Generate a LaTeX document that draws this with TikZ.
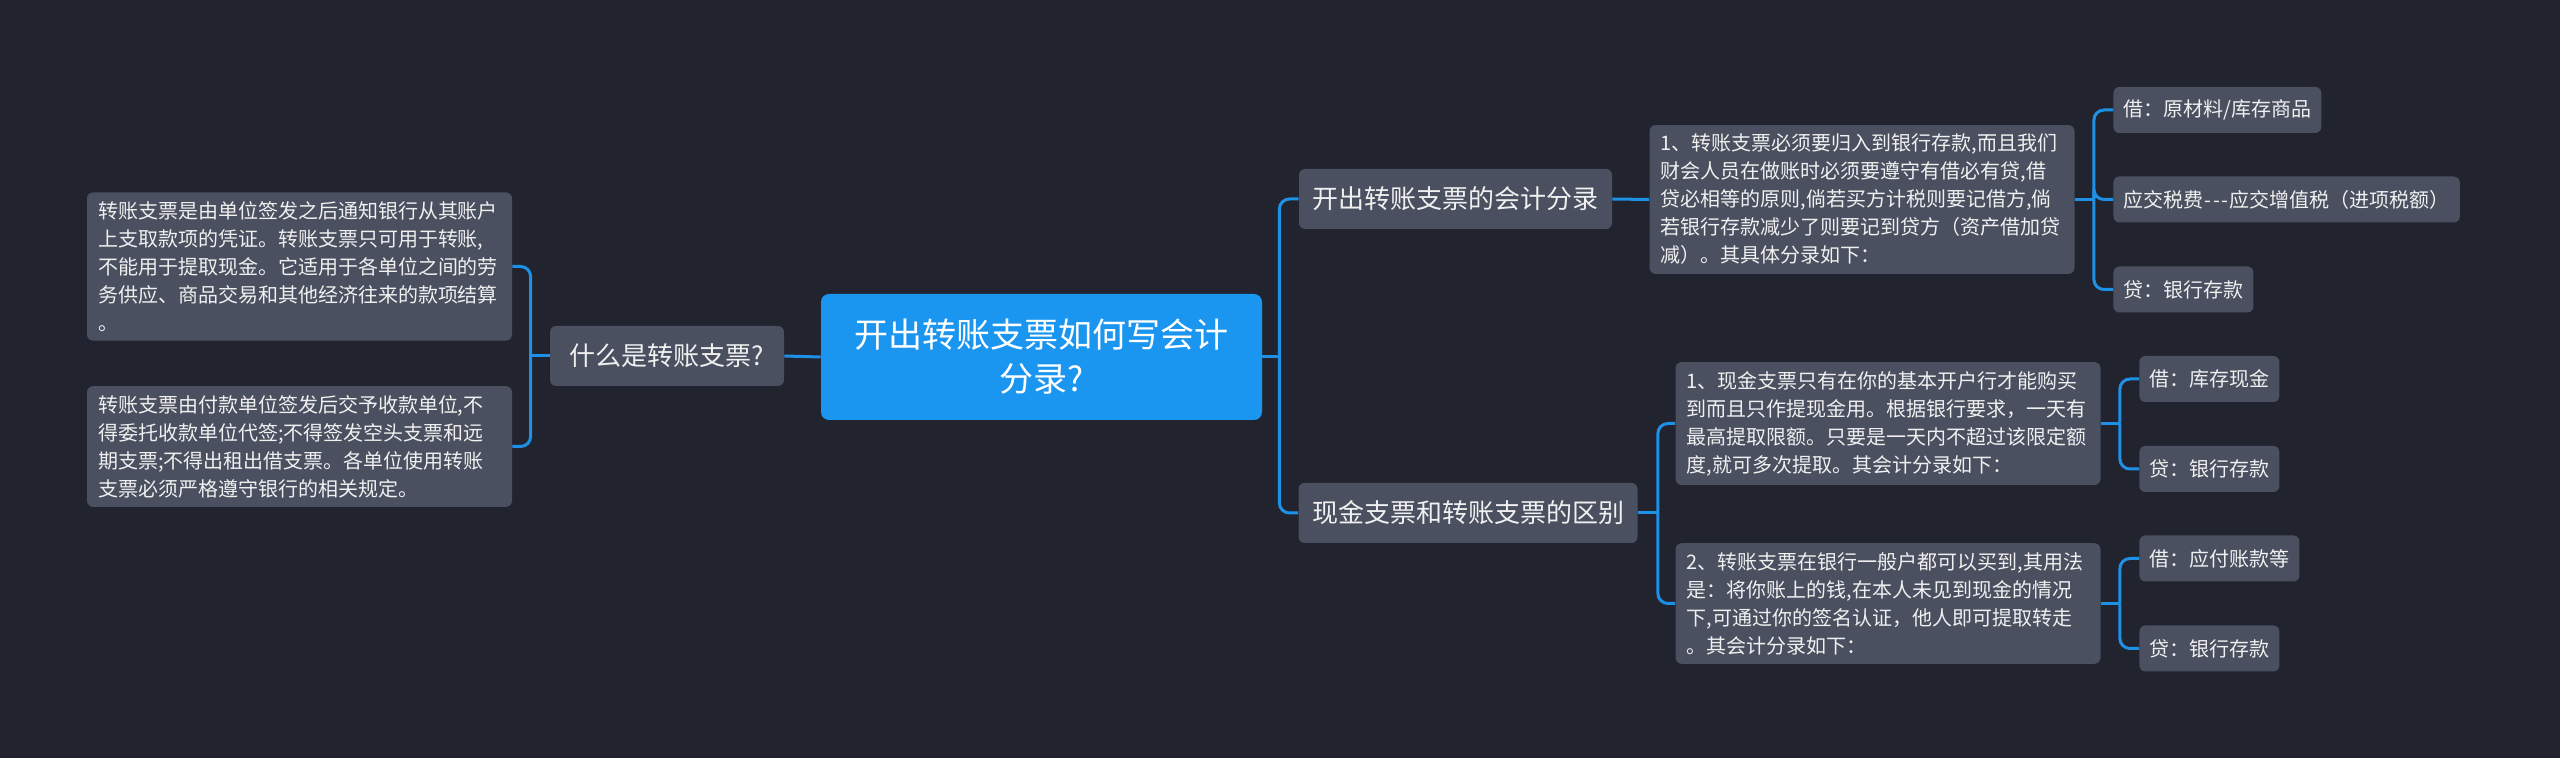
\documentclass[tikz,border=0pt]{standalone}
\usepackage{fontspec}
\setmainfont{Noto Sans CJK SC}
\usetikzlibrary{positioning}
\definecolor{bgcol}{RGB}{33,36,47}
\definecolor{boxgray}{RGB}{74,80,96}
\definecolor{rootblue}{RGB}{26,150,240}
\definecolor{linkblue}{RGB}{30,144,230}
\definecolor{txt}{RGB}{240,240,240}

\begin{document}
\begin{tikzpicture}[x=0.5pt, y=-0.5pt,
    box/.style={fill=boxgray, text=txt, rounded corners=3pt},
    note/.style={box, font=\fontsize{10pt}{14pt}\selectfont, align=left, text width=201.5pt, inner xsep=5.5pt, inner ysep=4.5pt},
    leaf/.style={box, font=\fontsize{10pt}{14pt}\selectfont, minimum height=23pt, inner xsep=5pt, anchor=west},
    topic/.style={box, font=\fontsize{13pt}{16pt}\selectfont, minimum height=30pt, inner xsep=6.75pt},
    root/.style={fill=rootblue, text=white, rounded corners=4pt, font=\fontsize{17pt}{22pt}\selectfont, align=center, minimum width=220.5pt, minimum height=63pt},
    link/.style={draw=linkblue, line width=1.5pt, rounded corners=5pt}]
    \fill[bgcol] (0,0) rectangle (2560,758);

    \node[root] (root) at (1041.5,357) {开出转账支票如何写会计\\分录?};

    \node[topic, minimum width=117pt] (what) at (667,356) {什么是转账支票?};
    \node[note] (def1) at (299.5,266.5) {转账支票是由单位签发之后通知银行从其账户\\上支取款项的凭证。转账支票只可用于转账,\\不能用于提取现金。它适用于各单位之间的劳\\务供应、商品交易和其他经济往来的款项结算\\。};
    \node[note] (def2) at (299.5,446.5) {转账支票由付款单位签发后交予收款单位,不\\得委托收款单位代签;不得签发空头支票和远\\期支票;不得出租出借支票。各单位使用转账\\支票必须严格遵守银行的相关规定。};

    \node[topic] (entry) at (1455.5,199) {开出转账支票的会计分录};
    \node[note] (entrytext) at (1862,199.5) {1、转账支票必须要归入到银行存款,而且我们\\财会人员在做账时必须要遵守有借必有贷,借\\贷必相等的原则,倘若买方计税则要记借方,倘\\若银行存款减少了则要记到贷方（资产借加贷\\减）。其具体分录如下：};
    \node[leaf] (a1) at (2113,110) {借：原材料/库存商品};
    \node[leaf] (a2) at (2113,199.5) {应交税费\kern0.7pt-\kern0.7pt-\kern0.7pt-\kern0.7pt应交增值税（进项税额）};
    \node[leaf] (a3) at (2113,289.5) {贷：银行存款};

    \node[topic] (diff) at (1468,513) {现金支票和转账支票的区别};
    \node[note] (cash) at (1888,423.5) {1、现金支票只有在你的基本开户行才能购买\\到而且只作提现金用。根据银行要求，一天有\\最高提取限额。只要是一天内不超过该限定额\\度,就可多次提取。其会计分录如下：};
    \node[note] (transfer) at (1888,603.5) {2、转账支票在银行一般户都可以买到,其用法\\是：将你账上的钱,在本人未见到现金的情况\\下,可通过你的签名认证，他人即可提取转走\\。其会计分录如下：};
    \node[leaf] (b1) at (2139,379) {借：库存现金};
    \node[leaf] (b2) at (2139,469) {贷：银行存款};
    \node[leaf] (c1) at (2139,558.5) {借：应付账款等};
    \node[leaf] (c2) at (2139,648.5) {贷：银行存款};

    \draw[link] (root.west) -- (what.west -| what.east);
    \draw[link] (what.west) -- ++(-19,0) coordinate (whatL);
    \draw[link] (whatL) |- (def1.east);
    \draw[link] (whatL) |- (def2.east);

    \draw[link] (root.east) -- ++(17,0) coordinate (rootR);
    \draw[link] (rootR) |- (entry.west);
    \draw[link] (rootR) |- (diff.west);

    \draw[link] (entry.east) -- (entrytext.west);
    \draw[link] (entrytext.east) -- ++(19,0) coordinate (entryR);
    \draw[link] (entryR) |- (a1.west);
    \draw[link] (entryR) |- (a2.west);
    \draw[link] (entryR) |- (a3.west);

    \draw[link] (diff.east) -- ++(20,0) coordinate (diffR);
    \draw[link] (diffR) |- (cash.west);
    \draw[link] (diffR) |- (transfer.west);

    \draw[link] (cash.east) -- ++(19,0) coordinate (cashR);
    \draw[link] (cashR) |- (b1.west);
    \draw[link] (cashR) |- (b2.west);

    \draw[link] (transfer.east) -- ++(19,0) coordinate (transferR);
    \draw[link] (transferR) |- (c1.west);
    \draw[link] (transferR) |- (c2.west);
\end{tikzpicture}
\end{document}
